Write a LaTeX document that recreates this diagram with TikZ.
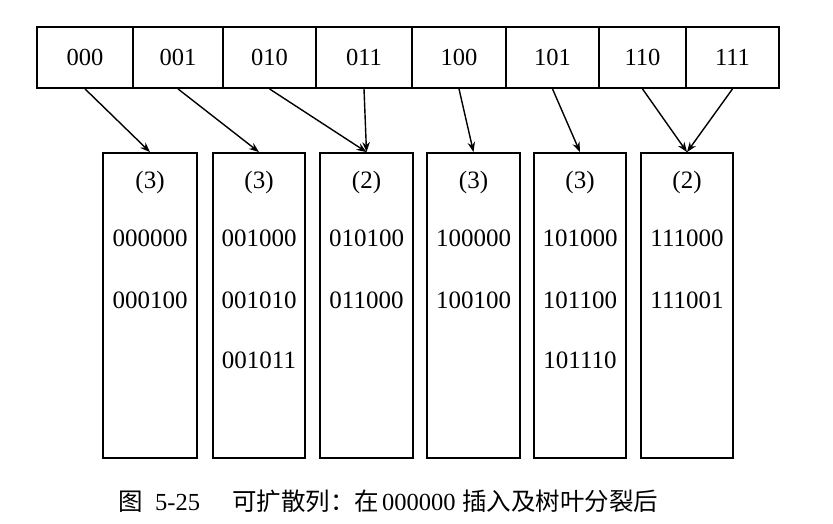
\documentclass[tikz,border=0pt]{standalone}
\usepackage{fontspec}
\setmainfont{Liberation Serif}
\newfontfamily\cjk{Noto Sans CJK SC}
\usetikzlibrary{arrows.meta}
\begin{document}
\begin{tikzpicture}[x=1pt,y=-1pt,
  cell/.style={draw,line width=1.8pt,minimum height=61pt,inner sep=0pt,font=\fontsize{24.5}{24.5}\selectfont},
  bucket/.style={draw,line width=1.8pt,minimum height=305pt,inner sep=0pt},
  val/.style={inner sep=0pt,font=\fontsize{25}{25}\selectfont},
  capt/.style={anchor=base west,inner sep=0pt,font=\fontsize{24.5}{24.5}\selectfont},
  ptr/.style={line width=1.4pt,-{Stealth[length=10pt,width=7.5pt]}}]
\useasboundingbox (0,0) rectangle (833,523);
% directory cells
\node[cell,minimum width=96pt] (c0) at (85,57.5) {000};
\node[cell,minimum width=90pt] (c1) at (178,57.5) {001};
\node[cell,minimum width=93pt] (c2) at (269.5,57.5) {010};
\node[cell,minimum width=96pt] (c3) at (364,57.5) {011};
\node[cell,minimum width=94pt] (c4) at (459,57.5) {100};
\node[cell,minimum width=93pt] (c5) at (552.5,57.5) {101};
\node[cell,minimum width=87pt] (c6) at (642.5,57.5) {110};
\node[cell,minimum width=93pt] (c7) at (732.5,57.5) {111};
% buckets
\node[bucket,minimum width=94pt] (b1) at (150,305.5) {};
\node[bucket,minimum width=92pt] (b2) at (259,305.5) {};
\node[bucket,minimum width=93pt] (b3) at (366.5,305.5) {};
\node[bucket,minimum width=93pt] (b4) at (473.5,305.5) {};
\node[bucket,minimum width=92pt] (b5) at (580,305.5) {};
\node[bucket,minimum width=92pt] (b6) at (687,305.5) {};
% bucket contents
\node[val] (d1) at (150,182) {(3)};
\node[val] (d2) at (259,182) {(3)};
\node[val] (d3) at (366.5,182) {(2)};
\node[val] (d4) at (473.5,182) {(3)};
\node[val] (d5) at (580,182) {(3)};
\node[val] (d6) at (687,182) {(2)};
\node[val] (k11) at (150,238) {000000};
\node[val] (k12) at (150,300) {000100};
\node[val] (k21) at (259,238) {001000};
\node[val] (k22) at (259,300) {001010};
\node[val] (k23) at (259,360) {001011};
\node[val] (k31) at (366.5,238) {010100};
\node[val] (k32) at (366.5,300) {011000};
\node[val] (k41) at (473.5,238) {100000};
\node[val] (k42) at (473.5,300) {100100};
\node[val] (k51) at (580,238) {101000};
\node[val] (k52) at (580,300) {101100};
\node[val] (k53) at (580,360) {101110};
\node[val] (k61) at (687,238) {111000};
\node[val] (k62) at (687,300) {111001};
% pointers
\draw[ptr] (c0.south) -- (b1.north);
\draw[ptr] (c1.south) -- (b2.north);
\draw[ptr] (c2.south) -- (b3.north);
\draw[ptr] (c3.south) -- (b3.north);
\draw[ptr] (c4.south) -- (b4.north);
\draw[ptr] (c5.south) -- (b5.north);
\draw[ptr] (c6.south) -- (b6.north);
\draw[ptr] (c7.south) -- (b6.north);
% caption
\node[capt] (cap1) at (118,510) {\cjk 图};
\node[capt] (cap2) at (155,510) {5-25};
\node[capt] (cap3) at (232,510) {\cjk 可扩散列：在};
\node[capt] (cap4) at (382,510) {000000};
\node[capt] (cap5) at (462,510) {\cjk 插入及树叶分裂后};
\end{tikzpicture}
\end{document}
